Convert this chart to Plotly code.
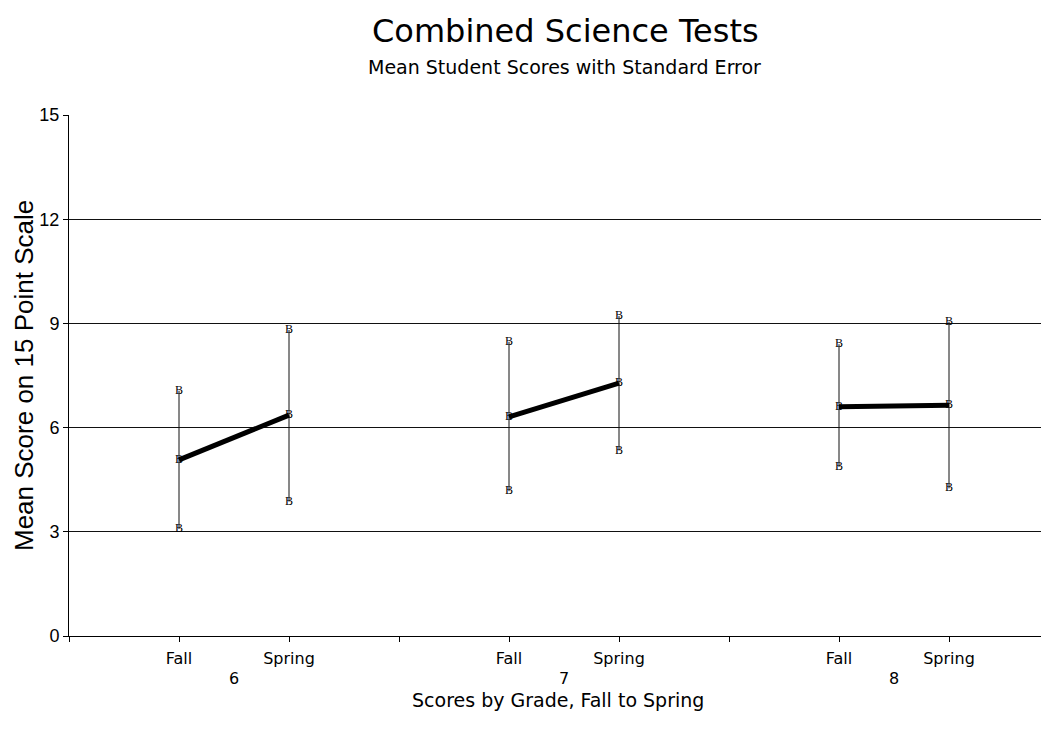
import plotly.graph_objects as go

# ---- data ----
grades = ["6", "7", "8"]
terms = ["Fall", "Spring"]
mean_scores = [5.07, 6.36, 6.31, 7.28, 6.60, 6.64]
upper_scores = [7.06, 8.81, 8.47, 9.21, 8.40, 9.05]
lower_scores = [3.08, 3.87, 4.17, 5.34, 4.87, 4.25]
y_ticks = [0, 3, 6, 9, 12, 15]

# x positions: each grade occupies 3 units, Fall at +1, Spring at +2
xs = []
for g in range(len(grades)):
    for t in range(len(terms)):
        xs.append(3 * g + 1 + t)

err_plus = [u - m for u, m in zip(upper_scores, mean_scores)]
err_minus = [m - l for m, l in zip(mean_scores, lower_scores)]

# page body has an 8px margin; compensate so the plot sits where the reference has it
OFF = 8
W, H = 1049 - OFF, 742 - 2 * OFF - 6
PL, PT, PW, PH = 69 - OFF, 115 - OFF, 980, 521
PB = H - PT - PH


def py(y_screen):
    return (115 + PH - y_screen) / PH


fig = go.Figure()

# error bars with "B" marker at the mean
fig.add_trace(go.Scatter(
    x=xs, y=mean_scores, mode="text", text=["B"] * len(xs),
    textfont=dict(family="Liberation Serif", size=12, color="black"),
    textposition="middle center",
    error_y=dict(type="data", symmetric=False, array=err_plus, arrayminus=err_minus,
                 width=0, thickness=1, color="#111"),
    showlegend=False, hoverinfo="skip"))

# upper / lower "B" markers
fig.add_trace(go.Scatter(
    x=xs + xs, y=upper_scores + lower_scores, mode="text", text=["B"] * (2 * len(xs)),
    textfont=dict(family="Liberation Serif", size=12, color="black"),
    textposition="middle center", showlegend=False, hoverinfo="skip"))

# thick connecting lines Fall -> Spring within each grade
lx, ly = [], []
for g in range(len(grades)):
    lx += [xs[2 * g], xs[2 * g + 1], None]
    ly += [mean_scores[2 * g], mean_scores[2 * g + 1], None]
fig.add_trace(go.Scatter(x=lx, y=ly, mode="lines", line=dict(color="black", width=5),
                         showlegend=False, hoverinfo="skip"))

tickvals = list(range(0, 3 * len(grades)))
ticktext = []
for g in range(len(grades)):
    ticktext += [""] + terms

fig.update_layout(
    width=W, height=H,
    margin=dict(l=PL, r=W - PL - PW, t=PT, b=PB, pad=0),
    paper_bgcolor="white", plot_bgcolor="white",
    xaxis=dict(range=[0, PW / 110], tickvals=tickvals, ticktext=ticktext,
               showgrid=False, zeroline=False, showline=True, linecolor="black", linewidth=1,
               ticks="outside", ticklen=5, tickcolor="black", ticklabelstandoff=3,
               tickfont=dict(family="DejaVu Sans", size=16, color="black")),
    yaxis=dict(range=[0, 15], tickvals=y_ticks, showgrid=True, gridcolor="#111", gridwidth=1,
               zeroline=False, showline=True, linecolor="black", linewidth=1,
               ticks="outside", ticklen=5, tickcolor="black",
               tickfont=dict(family="Liberation Sans", size=18, color="black")),
    showlegend=False,
)

ann = []
ann.append(dict(text="Combined Science Tests", xref="paper", yref="paper",
                x=(565 - 69) / PW, y=py(31), xanchor="center", yanchor="middle", showarrow=False,
                font=dict(family="DejaVu Sans", size=32, color="black")))
ann.append(dict(text="Mean Student Scores with Standard Error", xref="paper", yref="paper",
                x=(564 - 69) / PW, y=py(67), xanchor="center", yanchor="middle", showarrow=False,
                font=dict(family="DejaVu Sans", size=19, color="black")))
ann.append(dict(text="Scores by Grade, Fall to Spring", xref="paper", yref="paper",
                x=(558 - 69) / PW, y=py(700), xanchor="center", yanchor="middle", showarrow=False,
                font=dict(family="DejaVu Sans", size=19, color="black")))
ann.append(dict(text="Mean Score on 15 Point Scale", xref="paper", yref="paper", textangle=-90,
                x=(24 - 69) / PW, y=py(376), xanchor="center", yanchor="middle",
                showarrow=False, font=dict(family="Liberation Sans", size=26, color="black")))
for g, name in enumerate(grades):
    ann.append(dict(text=name, x=3 * g + 1.5, xref="x", yref="paper", y=py(678),
                    xanchor="center", yanchor="middle", showarrow=False,
                    font=dict(family="DejaVu Sans", size=16, color="black")))
fig.update_layout(annotations=ann)

fig.write_html("out.html")
